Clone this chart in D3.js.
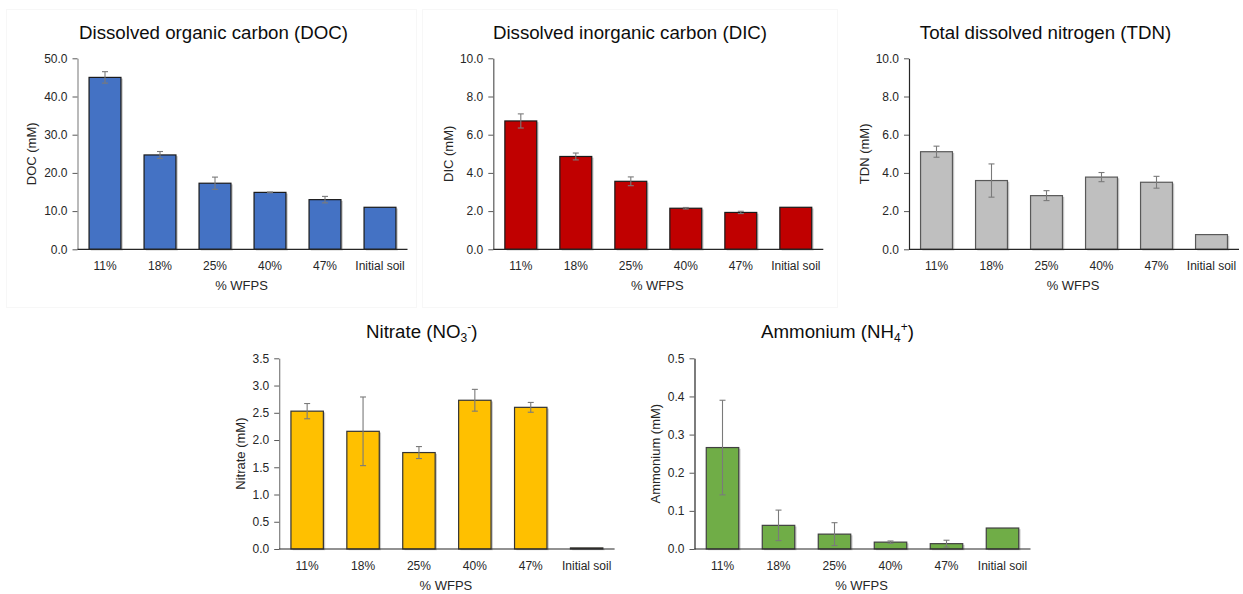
<!DOCTYPE html>
<html>
<head>
<meta charset="utf-8">
<script src="https://cdn.jsdelivr.net/npm/d3@7"></script>
<style>
  html, body { margin: 0; padding: 0; background: #fff; }
  svg { display: block; font-family: "Liberation Sans", Arial, sans-serif; }
</style>
</head>
<body>
<svg id="chart" width="1243" height="594"></svg>
<script>
// Categories shared by all panels
const categories = ["11%", "18%", "25%", "40%", "47%", "Initial soil"];

// Means and standard errors (mM); null = no error bar
const docMean = [45.0, 24.7, 17.3, 14.9, 13.0, 11.0];
const docErr  = [1.5, 0.9, 1.6, 0.1, 0.85, null];

const dicMean = [6.72, 4.86, 3.56, 2.15, 1.93, 2.20];
const dicErr  = [0.37, 0.18, 0.23, 0.04, 0.06, null];

const tdnMean = [5.11, 3.60, 2.81, 3.78, 3.51, 0.77];
const tdnErr  = [0.29, 0.87, 0.26, 0.24, 0.31, null];

const no3Mean = [2.53, 2.16, 1.77, 2.73, 2.60, 0.02];
const no3Err  = [0.14, 0.63, 0.11, 0.20, 0.09, null];

const nh4Mean = [0.266, 0.062, 0.039, 0.018, 0.014, 0.055];
const nh4Err  = [0.124, 0.040, 0.030, 0.003, 0.009, null];

// Y-axis tick values
const docTicks = [0, 10, 20, 30, 40, 50];
const dicTicks = [0, 2, 4, 6, 8, 10];
const tdnTicks = [0, 2, 4, 6, 8, 10];
const no3Ticks = [0, 0.5, 1, 1.5, 2, 2.5, 3, 3.5];
const nh4Ticks = [0, 0.1, 0.2, 0.3, 0.4, 0.5];

const svg = d3.select("#chart");

// faint chart-area frames
svg.append("rect").attr("x", 6.5).attr("y", 9.5).attr("width", 410).attr("height", 298)
  .attr("fill", "none").attr("stroke", "#f7f7f7");
svg.append("rect").attr("x", 422.5).attr("y", 9.5).attr("width", 415).attr("height", 298)
  .attr("fill", "none").attr("stroke", "#f7f7f7");

const panels = [
  { title: [["Dissolved organic carbon (DOC)"]], ylabel: "DOC (mM)", mean: docMean, err: docErr, ticks: docTicks,
    x0: 77.5, x1: 407.5, top: 58.3, bottom: 249.3, titleX: 213.5, titleY: 38.5, ylabX: 36,
    fill: "#4472C4", stroke: "#1a1a1a", yAxisColor: "#8c8c8c" },
  { title: [["Dissolved inorganic carbon (DIC)"]], ylabel: "DIC (mM)", mean: dicMean, err: dicErr, ticks: dicTicks,
    x0: 493.3, x1: 823.3, top: 58.3, bottom: 249.3, titleX: 630, titleY: 38.5, ylabX: 452.5,
    fill: "#C00000", stroke: "#1a1a1a", yAxisColor: "#595959" },
  { title: [["Total dissolved nitrogen (TDN)"]], ylabel: "TDN (mM)", mean: tdnMean, err: tdnErr, ticks: tdnTicks,
    x0: 909, x1: 1239, top: 58.3, bottom: 249.3, titleX: 1045.5, titleY: 38.5, ylabX: 869,
    fill: "#BFBFBF", stroke: "#595959", yAxisColor: "#262626" },
  { title: [["Nitrate (NO"], ["3", "sub"], ["-", "sup"], [")"]], ylabel: "Nitrate (mM)", mean: no3Mean, err: no3Err, ticks: no3Ticks,
    x0: 279.2, x1: 614.6, top: 358.3, bottom: 549, titleX: 421.7, titleY: 338, ylabX: 244.5,
    fill: "#FFC000", stroke: "#333333", yAxisColor: "#7f7f7f" },
  { title: [["Ammonium (NH"], ["4", "sub"], ["+", "sup"], [")"]], ylabel: "Ammonium (mM)", mean: nh4Mean, err: nh4Err, ticks: nh4Ticks,
    x0: 694.5, x1: 1030.5, top: 358.3, bottom: 549, titleX: 837.5, titleY: 338, ylabX: 660,
    fill: "#70AD47", stroke: "#404040", yAxisColor: "#262626" }
];

panels.forEach(p => {
  const g = svg.append("g");
  const x = d3.scaleBand().domain(categories).range([p.x0, p.x1]).paddingInner(0.42).paddingOuter(0.21);
  const yMax = p.ticks[p.ticks.length - 1];
  const y = d3.scaleLinear().domain([0, yMax]).range([p.bottom, p.top]);

  // title with optional sub/superscripts
  const t = g.append("text").attr("x", p.titleX).attr("y", p.titleY)
    .attr("text-anchor", "middle").attr("font-size", 18.7).attr("fill", "#0d0d0d");
  p.title.forEach(([s, kind]) => {
    const ts = t.append("tspan").text(s);
    if (kind === "sub") ts.attr("font-size", 12).attr("dy", 4);
    if (kind === "sup") ts.attr("font-size", 12).attr("dy", -11);
    if (!kind && s === ")") ts.attr("dy", 7);
  });

  // bar shadows
  g.selectAll("rect.shadow").data(p.mean).join("rect")
    .attr("x", (d, i) => x(categories[i]) + 1.8)
    .attr("y", d => y(d) + 1.2)
    .attr("width", x.bandwidth())
    .attr("height", d => p.bottom - y(d))
    .attr("fill", "#c9c9c9");

  // bars
  g.selectAll("rect.bar").data(p.mean).join("rect")
    .attr("x", (d, i) => x(categories[i]))
    .attr("y", d => y(d))
    .attr("width", x.bandwidth())
    .attr("height", d => p.bottom - y(d))
    .attr("fill", p.fill)
    .attr("stroke", p.stroke)
    .attr("stroke-width", 1.2);

  // error bars
  const eb = p.mean.map((m, i) => ({ m, e: p.err[i], c: categories[i] })).filter(d => d.e != null);
  const cap = 3;
  eb.forEach(d => {
    const cx = x(d.c) + x.bandwidth() / 2;
    const yt = y(d.m + d.e), yb = y(Math.max(0, d.m - d.e));
    g.append("line").attr("x1", cx).attr("x2", cx).attr("y1", yt).attr("y2", yb)
      .attr("stroke", "#7a7a7a").attr("stroke-width", 1.1);
    [yt, yb].forEach(yy => g.append("line").attr("x1", cx - cap).attr("x2", cx + cap)
      .attr("y1", yy).attr("y2", yy).attr("stroke", "#7a7a7a").attr("stroke-width", 1.1));
  });

  // y axis
  const ya = g.append("g").attr("transform", `translate(${p.x0},0)`)
    .call(d3.axisLeft(y).tickValues(p.ticks).tickFormat(d3.format(".1f")).tickSize(5).tickSizeOuter(0).tickPadding(5));
  ya.select(".domain").attr("stroke", p.yAxisColor).attr("stroke-width", 1.2);
  ya.selectAll(".tick line").attr("stroke", "#595959");
  ya.selectAll(".tick text").attr("font-size", 12).attr("fill", "#262626")
    .attr("font-family", "'Liberation Sans', Arial, sans-serif");

  // x axis
  const xa = g.append("g").attr("transform", `translate(0,${p.bottom})`)
    .call(d3.axisBottom(x).tickSize(0).tickPadding(12));
  xa.select(".domain").attr("d", `M${p.x0},0H${p.x1}`).attr("stroke", "#262626").attr("stroke-width", 1.2);
  xa.selectAll(".tick text").attr("font-size", 12).attr("fill", "#262626")
    .attr("font-family", "'Liberation Sans', Arial, sans-serif");

  // axis titles
  g.append("text").attr("x", (p.x0 + p.x1) / 2 - 1).attr("y", p.bottom + 40.5)
    .attr("text-anchor", "middle").attr("font-size", 13).attr("fill", "#262626").text("% WFPS");
  g.append("text").attr("transform", `translate(${p.ylabX},${(p.top + p.bottom) / 2}) rotate(-90)`)
    .attr("text-anchor", "middle").attr("font-size", 13).attr("fill", "#262626").text(p.ylabel);
});
</script>
</body>
</html>
